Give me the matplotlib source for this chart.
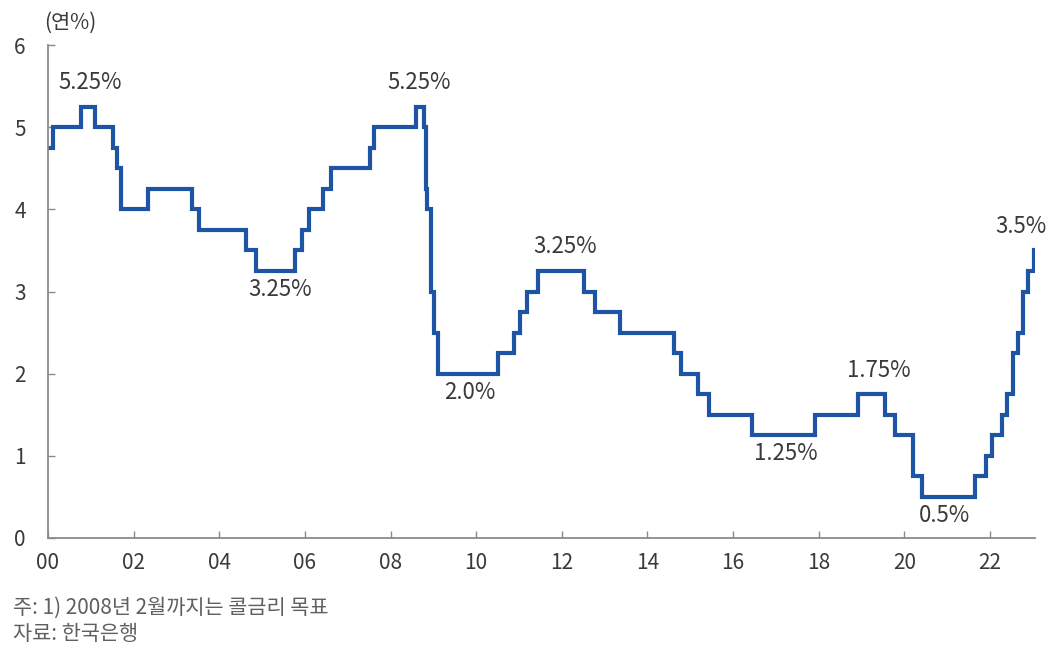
import matplotlib
matplotlib.use("Agg")
import matplotlib.pyplot as plt
import pandas as pd

plt.rcParams['font.family'] = ['Noto Sans CJK KR', 'DejaVu Sans']

# Bank of Korea policy rate: change dates and the rate set on each date
change_dates = [
    "2000-01-01", "2000-02-10", "2000-10-05", "2001-02-08", "2001-07-05",
    "2001-08-09", "2001-09-19", "2002-05-07", "2003-05-13", "2003-07-10",
    "2004-08-12", "2004-11-11", "2005-10-11", "2005-12-08", "2006-02-09",
    "2006-06-08", "2006-08-10", "2007-07-12", "2007-08-09", "2008-08-07",
    "2008-10-09", "2008-10-27", "2008-11-07", "2008-12-11", "2009-01-09",
    "2009-02-12", "2010-07-09", "2010-11-16", "2011-01-13", "2011-03-10",
    "2011-06-10", "2012-07-12", "2012-10-11", "2013-05-09", "2014-08-14",
    "2014-10-15", "2015-03-12", "2015-06-11", "2016-06-09", "2017-11-30",
    "2018-11-30", "2019-07-18", "2019-10-16", "2020-03-17", "2020-05-28",
    "2021-08-26", "2021-11-25", "2022-01-14", "2022-04-14", "2022-05-26",
    "2022-07-13", "2022-08-25", "2022-10-12", "2022-11-24", "2023-01-13",
]
rates = [
    4.75, 5.00, 5.25, 5.00, 4.75,
    4.50, 4.00, 4.25, 4.00, 3.75,
    3.50, 3.25, 3.50, 3.75, 4.00,
    4.25, 4.50, 4.75, 5.00, 5.25,
    5.00, 4.25, 4.00, 3.00, 2.50,
    2.00, 2.25, 2.50, 2.75, 3.00,
    3.25, 3.00, 2.75, 2.50, 2.25,
    2.00, 1.75, 1.50, 1.25, 1.50,
    1.75, 1.50, 1.25, 0.75, 0.50,
    0.75, 1.00, 1.25, 1.50, 1.75,
    2.25, 2.50, 3.00, 3.25, 3.50,
]

# Labelled turning points: date, rate, text, side of the line, horizontal shift (years)
label_dates = ["2000-10-05", "2004-11-11", "2008-08-07", "2009-02-12", "2011-06-10",
               "2016-06-09", "2018-11-30", "2020-05-28", "2023-01-13"]
label_rates = [5.25, 3.25, 5.25, 2.00, 3.25, 1.25, 1.75, 0.50, 3.50]
label_texts = ["5.25%", "3.25%", "5.25%", "2.0%", "3.25%", "1.25%", "1.75%", "0.5%", "3.5%"]
label_side = ["above", "below", "above", "below", "above", "below", "above", "below", "above"]
label_shift = [0.22, 0.55, 0.08, 0.73, 0.65, 0.8, 0.5, 0.52, -0.3]

x_ticks = list(range(2000, 2023, 2))
x_ticklabels = [f"{y % 100:02d}" for y in x_ticks]
y_ticks = [0, 1, 2, 3, 4, 5, 6]

note_lines = ["주: 1) 2008년 2월까지는 콜금리 목표", "자료: 한국은행"]


def to_year(s):
    t = pd.Timestamp(s)
    return t.year + (t.dayofyear - 1) / 365.0


xs = [to_year(d) for d in change_dates]

fig = plt.figure(figsize=(10.5, 6.46), dpi=100)
ax = fig.add_axes([0.0457, 0.1672, 0.9400, 0.7631])

line_color = "#1d55a4"
ax.step(xs, rates, where="post", color=line_color, lw=3.0, solid_joinstyle="miter")

text_color = "#3a3a3a"
for d, r, t, side, sh in zip(label_dates, label_rates, label_texts, label_side, label_shift):
    x = to_year(d) + sh
    if side == "above":
        ax.annotate(t, (x, r), xytext=(0, 9), textcoords="offset points",
                    ha="center", va="bottom", fontsize=16, color=text_color)
    else:
        ax.annotate(t, (x, r), xytext=(0, -5), textcoords="offset points",
                    ha="center", va="top", fontsize=16, color=text_color)

ax.set_xlim(2000, 2023.05)
ax.set_ylim(0, 6)
ax.set_xticks(x_ticks)
ax.set_xticklabels(x_ticklabels)
ax.set_yticks(y_ticks)

spine_color = "#8a8a8a"
for s in ["top", "right"]:
    ax.spines[s].set_visible(False)
for s in ["left", "bottom"]:
    ax.spines[s].set_color(spine_color)
    ax.spines[s].set_linewidth(1.3)

ax.tick_params(axis="both", direction="in", length=5, width=1.0, color=spine_color,
               labelsize=15, labelcolor=text_color)
ax.tick_params(axis="y", pad=16)
ax.tick_params(axis="x", pad=10)

fig.text(0.042, 0.965, "(연%)", fontsize=15, color=text_color, va="center", ha="left")

fig.text(0.012, 0.059, note_lines[0], fontsize=15, color="#606060", va="center", ha="left")
fig.text(0.012, 0.019, note_lines[1], fontsize=15, color="#606060", va="center", ha="left")

fig.savefig("out.png", dpi=100, facecolor="white")
